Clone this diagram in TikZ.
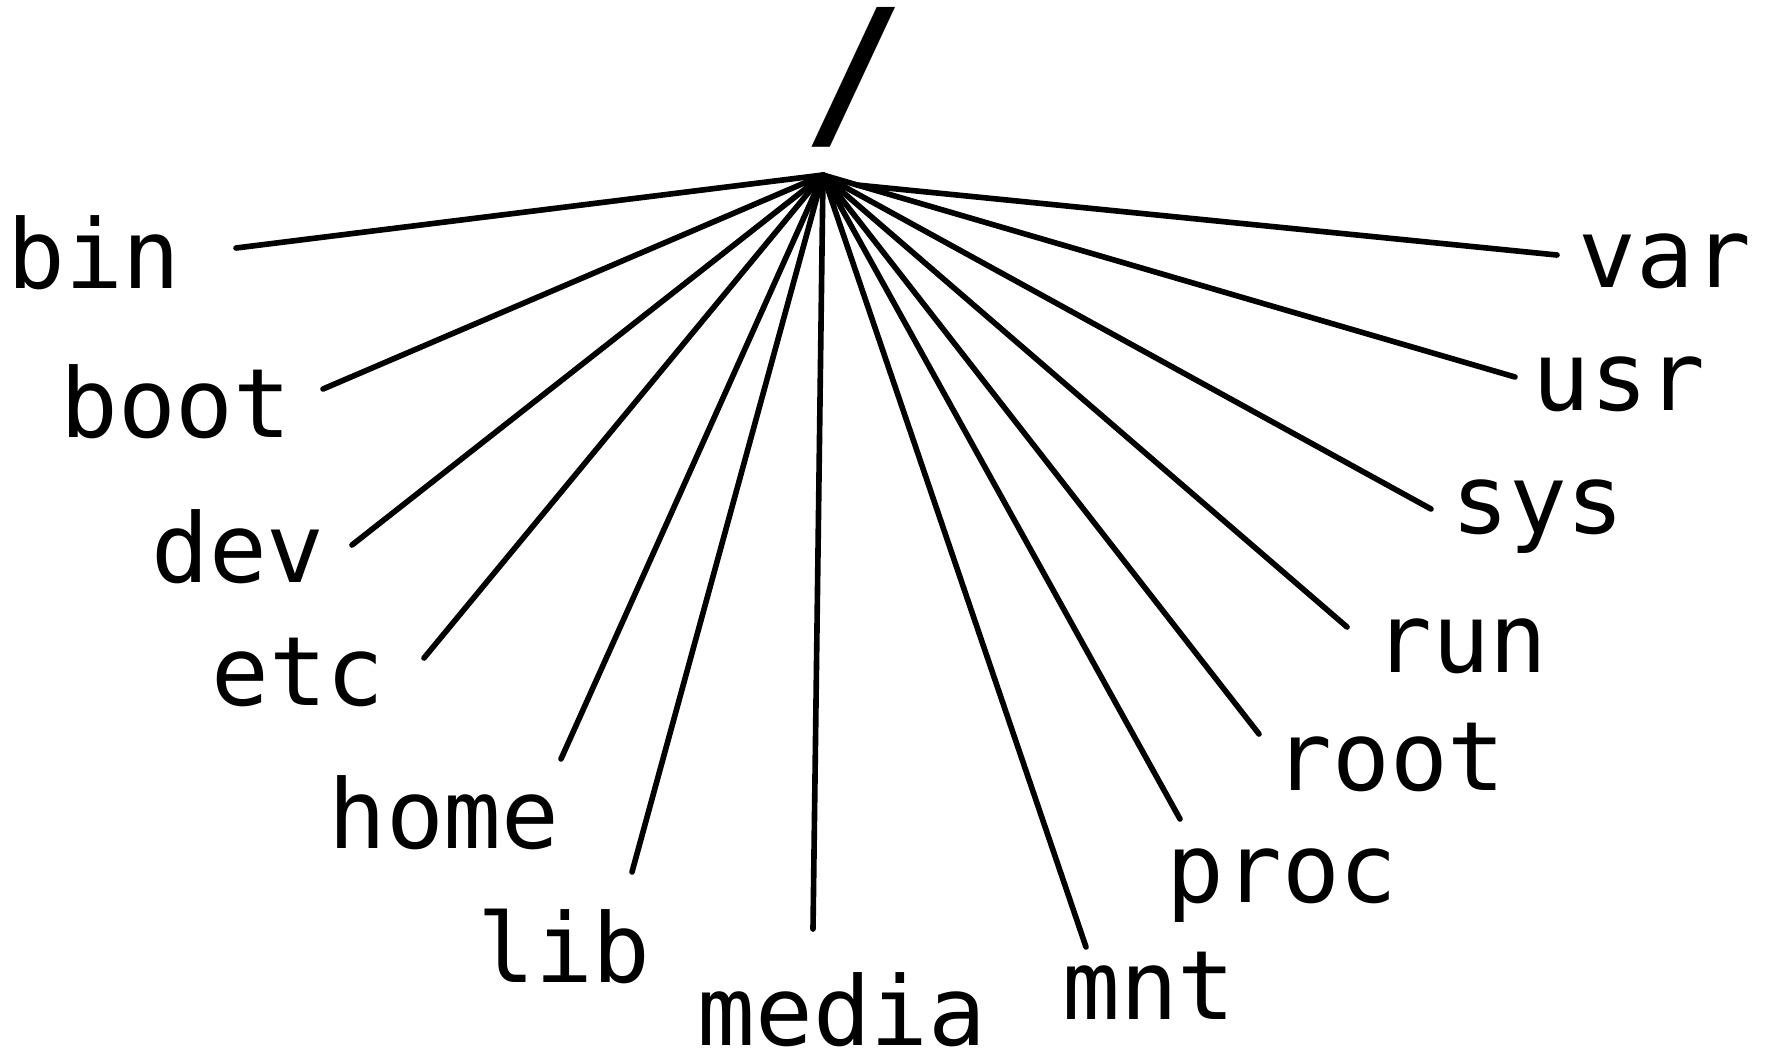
\documentclass[tikz,border=0pt]{standalone}
\usepackage{fontspec}
\setmonofont{DejaVu Sans Mono}
\usetikzlibrary{calc}
\def\drawdir{\draw[line width=1.6pt, line cap=round]}
\def\dirnode{\node[anchor=base, inner sep=0pt, font=\ttfamily\fontsize{27.3pt}{30pt}\selectfont]}

\begin{document}
\begin{tikzpicture}[x=0.01cm, y=-0.01cm]
\useasboundingbox (0,0) rectangle (1772,1057);

% -------- the root ---------
\node[anchor=base, inner sep=0pt, font=\ttfamily\bfseries\fontsize{48.4pt}{50pt}\selectfont] (slash) at (854,131) {/};
\coordinate (hub) at (823,175);
\coordinate (hub_var) at (857,185); % var leaves the hub a little to the right

% -------- left fan ---------
\dirnode (bin) at (94,288) {bin};
\dirnode (boot) at (176,437) {boot};
\dirnode (dev) at (238,582) {dev};
\dirnode (etc) at (298,705) {etc};
\dirnode (home) at (444,848) {home};
\dirnode (lib) at (564,982) {lib};
\dirnode (media) at (842,1045) {media};

\coordinate (bin_end) at (236,248);
\coordinate (boot_end) at (323,389);
\coordinate (dev_end) at (352,545);
\coordinate (etc_end) at (424,658);
\coordinate (home_end) at (561,759);
\coordinate (lib_end) at (632,872);
\coordinate (media_end) at (813,929);

\drawdir (hub) -- (bin_end);
\drawdir (hub) -- (boot_end);
\drawdir (hub) -- (dev_end);
\drawdir (hub) -- (etc_end);
\drawdir (hub) -- (home_end);
\drawdir (hub) -- (lib_end);
\drawdir (hub) -- (media_end);

% -------- right fan ---------
\dirnode (mnt) at (1149,1019) {mnt};
\dirnode (proc) at (1282,902) {proc};
\dirnode (root) at (1390,790) {root};
\dirnode (run) at (1461,672) {run};
\dirnode (sys) at (1538,533) {sys};
\dirnode (usr) at (1619,410) {usr};
\dirnode (var) at (1665,287) {var};

\coordinate (mnt_end) at (1086,947);
\coordinate (proc_end) at (1180,819);
\coordinate (root_end) at (1259,734);
\coordinate (run_end) at (1347,627);
\coordinate (sys_end) at (1431,509);
\coordinate (usr_end) at (1515,377);
\coordinate (var_end) at (1557,255);

\drawdir (hub) -- (mnt_end);
\drawdir (hub) -- (proc_end);
\drawdir (hub) -- (root_end);
\drawdir (hub) -- (run_end);
\drawdir (hub) -- (sys_end);
\drawdir (hub) -- (usr_end);
\drawdir (hub_var) -- (var_end);
\end{tikzpicture}
\end{document}
